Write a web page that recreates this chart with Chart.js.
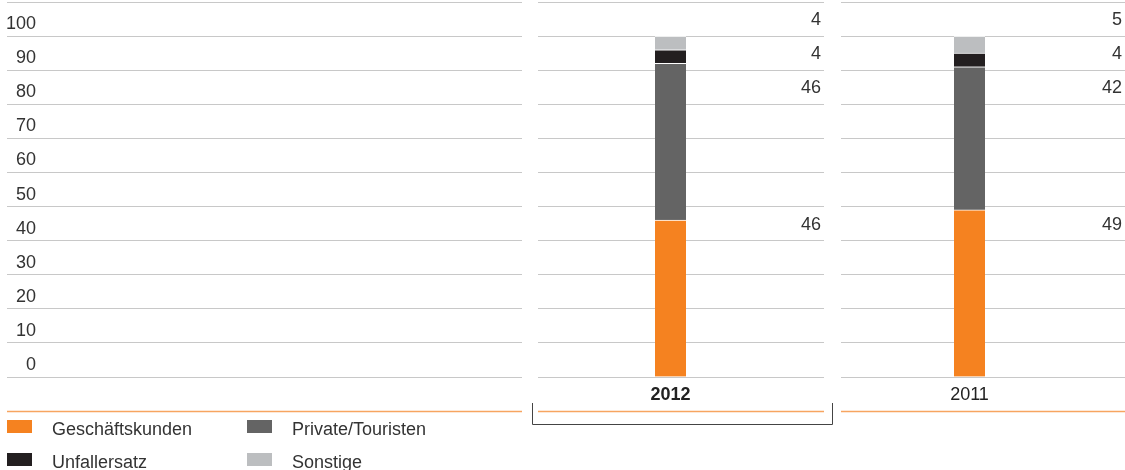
<!DOCTYPE html>
<html><head><meta charset="utf-8">
<script src="https://cdn.jsdelivr.net/npm/chart.js@4/dist/chart.umd.min.js"></script>
<style>html,body{margin:0;padding:0;background:#fff;overflow:hidden}</style>
</head><body>
<canvas id="c" width="1125" height="470" style="display:block;width:1125px;height:470px"></canvas>
<script>
// ---- data ----
const years = ['2012', '2011'];
const geschaeftskunden = [46, 49];
const privateTouristen = [46, 42];
const unfallersatz = [4, 4];
const sonstige = [4, 5];
const seriesNames = ['Geschäftskunden', 'Private/Touristen', 'Unfallersatz', 'Sonstige'];
const yTickValues = [0, 10, 20, 30, 40, 50, 60, 70, 80, 90, 100];
const yTickLabels = ['0', '10', '20', '30', '40', '50', '60', '70', '80', '90', '100'];

// ---- style / layout ----
const FONT = "'Liberation Sans', Arial, Helvetica, sans-serif";
const colors = ['#F58220', '#646464', '#231F20', '#BCBEC0'];
const gridColor = '#c8c8c8';
const textColor = '#333333';
const panels = [[7, 522], [538, 824], [841, 1125]];
const valueLabelRows = [45, 85, 95, 105]; // y-axis value of the row where each series' value is written

const seriesData = [geschaeftskunden, privateTouristen, unfallersatz, sonstige];

const decor = {
  id: 'decor',
  beforeDatasetsDraw(chart) {
    const ctx = chart.ctx;
    const bottom = chart.chartArea.bottom;
    ctx.save();
    ctx.fillStyle = '#ffffff';
    for (let i = 0; i < panels.length - 1; i++) {
      ctx.fillRect(panels[i][1], 0, panels[i + 1][0] - panels[i][1], bottom + 2);
    }
    ctx.restore();
  },
  afterDraw(chart) {
    const ctx = chart.ctx;
    const ys = chart.scales.y;
    ctx.save();
    // value labels
    ctx.font = '18px ' + FONT;
    ctx.fillStyle = textColor;
    ctx.textAlign = 'right';
    ctx.textBaseline = 'middle';
    chart.data.datasets.forEach((ds, i) => {
      ds.data.forEach((v, j) => {
        const x = panels[j + 1][1] - 3;
        const y = ys.getPixelForValue(valueLabelRows[i]) + 1;
        ctx.fillText(String(v), x, y);
      });
    });
    // orange separator line
    ctx.strokeStyle = '#F7A560';
    ctx.lineWidth = 1.5;
    panels.forEach(p => {
      ctx.beginPath();
      ctx.moveTo(p[0], 411.5);
      ctx.lineTo(p[1], 411.5);
      ctx.stroke();
    });
    // bracket under 2012
    ctx.strokeStyle = '#444444';
    ctx.lineWidth = 1;
    ctx.beginPath();
    ctx.moveTo(532.5, 403);
    ctx.lineTo(532.5, 424.5);
    ctx.lineTo(832.5, 424.5);
    ctx.lineTo(832.5, 403);
    ctx.stroke();
    // legend
    ctx.textAlign = 'left';
    ctx.textBaseline = 'alphabetic';
    ctx.font = '18px ' + FONT;
    const cols = [7, 247];
    const rows = [420, 453];
    chart.data.datasets.forEach((ds, i) => {
      const x = cols[i % 2];
      const y = rows[Math.floor(i / 2)];
      ctx.fillStyle = ds.backgroundColor;
      ctx.fillRect(x, y, 25, 13);
      ctx.fillStyle = textColor;
      ctx.fillText(ds.label, x + 45, y + 15);
    });
    ctx.restore();
  }
};

new Chart(document.getElementById('c'), {
  type: 'bar',
  data: {
    labels: years,
    datasets: seriesData.map((d, i) => ({
      label: seriesNames[i],
      data: d,
      backgroundColor: colors[i],
      borderColor: '#ffffff',
      borderWidth: {top: 1, right: 0, bottom: 0, left: 0},
      borderSkipped: false,
      barThickness: 31
    }))
  },
  options: {
    responsive: false,
    animation: false,
    devicePixelRatio: 1,
    layout: {padding: {top: 2, left: 0, right: 0, bottom: 0}},
    plugins: {legend: {display: false}, tooltip: {enabled: false}},
    scales: {
      x: {
        stacked: true,
        grid: {display: false},
        border: {display: false},
        ticks: {
          color: '#222222',
          padding: -1,
          font: (ctx) => ({family: FONT, size: 18, weight: ctx.index === 0 ? 'bold' : 'normal'})
        },
        afterFit: (s) => { s.height = 93; }
      },
      y: {
        stacked: true,
        position: 'left',
        min: 0,
        max: 110,
        ticks: {
          stepSize: 10,
          padding: -29,
          labelOffset: -12,
          color: textColor,
          font: {family: FONT, size: 18},
          callback: (v) => {
            const k = yTickValues.indexOf(v);
            return k >= 0 ? yTickLabels[k] : '';
          }
        },
        grid: {color: gridColor, lineWidth: 1, drawTicks: true, tickLength: 514},
        border: {display: false},
        afterFit: (s) => { s.width = 521; }
      },
      y2: {
        position: 'right',
        min: 0,
        max: 110,
        ticks: {display: false, stepSize: 10},
        grid: {color: gridColor, lineWidth: 1, drawOnChartArea: false, drawTicks: true, tickLength: 6},
        border: {display: false},
        afterFit: (s) => { s.width = 6; }
      }
    }
  },
  plugins: [decor]
});
</script>
</body></html>
